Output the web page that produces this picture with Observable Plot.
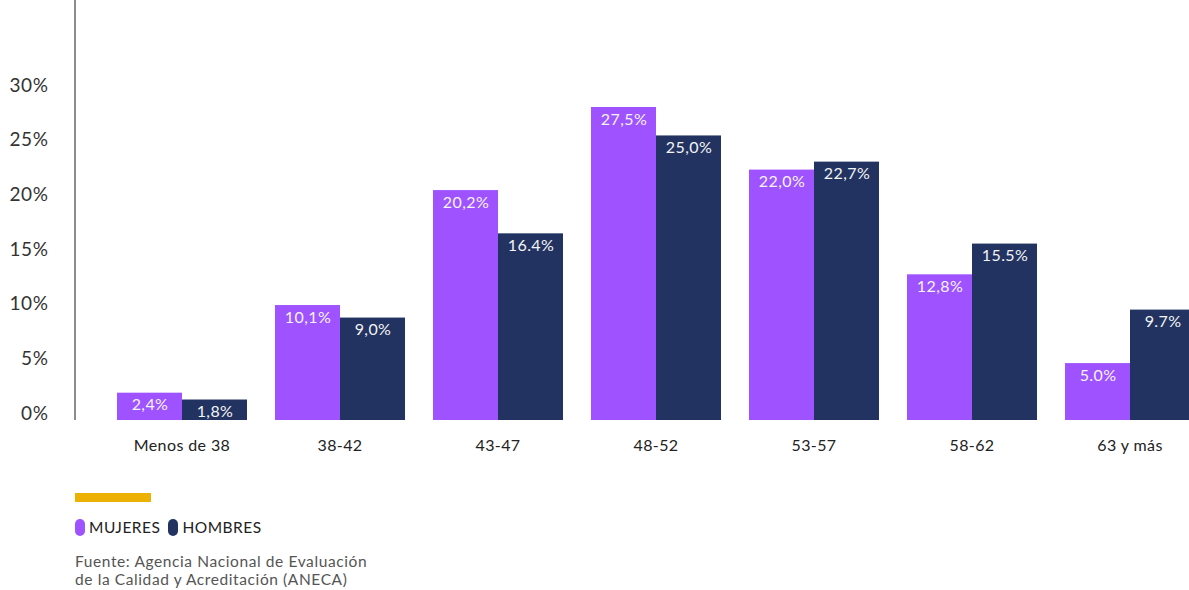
<!DOCTYPE html>
<html>
<head>
<meta charset="utf-8">
<script src="https://cdn.jsdelivr.net/npm/d3@7"></script>
<script src="https://cdn.jsdelivr.net/npm/@observablehq/plot@0.6"></script>
<style>
  html, body { margin: 0; padding: 0; background: #fff; overflow: hidden; width: 1189px; height: 590px; }
  body { font-family: Lato, "Noto Sans", sans-serif; position: relative; }
  #chart { position: absolute; left: 0; top: 0; }
  #yaxis { position: absolute; left: 0; top: 0; }
  #axisline { position: absolute; left: 74px; top: 0; width: 1.5px; height: 420px; background: #8c8c8c; }
  #accent { position: absolute; left: 75px; top: 493px; width: 76px; height: 9px; background: #EDB104; }
  #legend { position: absolute; left: 75px; top: 518px; display: flex; align-items: center; font-size: 15.5px; letter-spacing: 0.5px; color: #222; }
  .sw { display: inline-block; width: 10px; height: 17px; border-radius: 5px; margin-right: 4px; }
  .item { display: flex; align-items: center; margin-right: 8px; }
  #source { position: absolute; left: 75px; top: 552px; font-size: 15.5px; letter-spacing: 0.6px; line-height: 18px; color: #555; }
</style>
</head>
<body>
<div id="chart"></div>
<div id="yaxis"></div>
<div id="axisline"></div>
<div id="accent"></div>
<div id="legend"></div>
<div id="source">Fuente: Agencia Nacional de Evaluación<br>de la Calidad y Acreditación (ANECA)</div>
<script>
const categories = ["Menos de 38", "38-42", "43-47", "48-52", "53-57", "58-62", "63 y más"];
const series = ["MUJERES", "HOMBRES"];
const colors = ["#9F52FF", "#223361"];
const mujeres = [2.4, 10.1, 20.2, 27.5, 22.0, 12.8, 5.0];
const hombres = [1.8, 9.0, 16.4, 25.0, 22.7, 15.5, 9.7];
const mujeresLabels = ["2,4%", "10,1%", "20,2%", "27,5%", "22,0%", "12,8%", "5.0%"];
const hombresLabels = ["1,8%", "9,0%", "16.4%", "25,0%", "22,7%", "15.5%", "9.7%"];
const yTicks = [0, 5, 10, 15, 20, 25, 30];

const data = [];
categories.forEach((c, i) => {
  data.push({cat: c, sex: series[0], value: mujeres[i], label: mujeresLabels[i]});
  data.push({cat: c, sex: series[1], value: hombres[i], label: hombresLabels[i]});
});

const chart = Plot.plot({
  width: 1189,
  height: 460,
  marginTop: 0,
  marginBottom: 40,
  marginLeft: 75,
  marginRight: -47,
  style: {fontFamily: "Lato, 'Noto Sans', sans-serif", background: "transparent", letterSpacing: "0.4px"},
  fx: {domain: categories, paddingInner: 0.1706, paddingOuter: 0.252, label: null},
  x: {domain: series, padding: 0, axis: null},
  y: {domain: [0, 36.9], axis: null},
  color: {domain: series, range: colors},
  marks: [
    Plot.barY(data, {fx: "cat", x: "sex", y: "value", fill: "sex"}),
    Plot.text(data, {fx: "cat", x: "sex", y: "value", text: "label", dy: 12, fill: "#f4f4f4", fontSize: 16}),
    Plot.axisFx({anchor: "bottom", tickSize: 0, tickPadding: 19, fontSize: 16, label: null, color: "#222"})
  ]
});
document.getElementById("chart").appendChild(chart);

const yaxis = Plot.plot({
  width: 76,
  height: 460,
  marginTop: 0,
  marginBottom: 0,
  marginLeft: 75,
  marginRight: 1,
  style: {fontFamily: "Lato, 'Noto Sans', sans-serif", background: "transparent", letterSpacing: "0.6px"},
  y: {domain: [0, 30], range: [413, 85]},
  marks: [
    Plot.axisY({ticks: yTicks, tickFormat: d => d + "%", tickSize: 0, tickPadding: 27, fontSize: 19, label: null, color: "#333"})
  ]
});
document.getElementById("yaxis").appendChild(yaxis);

const legend = document.getElementById("legend");
series.forEach((s, i) => {
  const item = document.createElement("span");
  item.className = "item";
  const sw = document.createElement("span");
  sw.className = "sw";
  sw.style.background = colors[i];
  item.appendChild(sw);
  item.appendChild(document.createTextNode(s));
  legend.appendChild(item);
});
</script>
</body>
</html>
